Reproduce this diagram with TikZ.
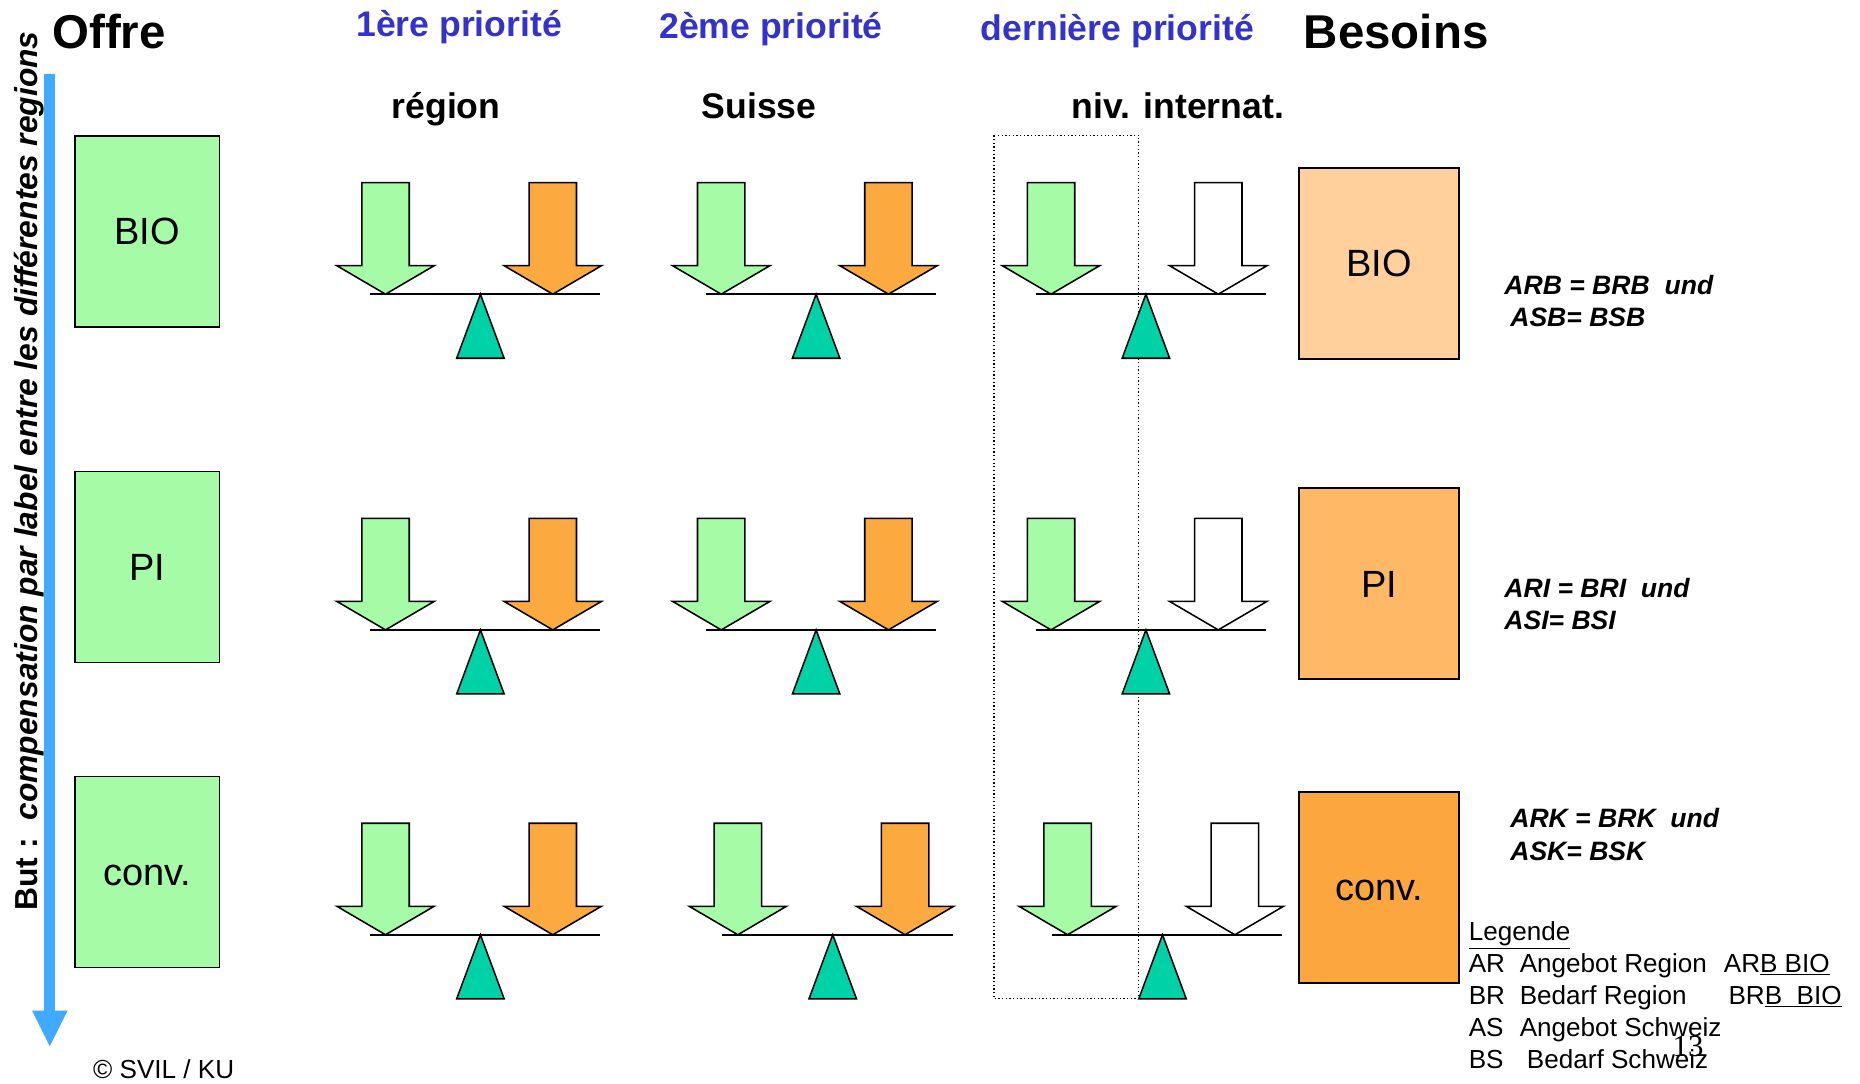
\documentclass[tikz,border=0pt]{standalone}
\usepackage{fontspec}
\setmainfont{Liberation Sans}
\newfontfamily\numserif{Liberation Serif}
\definecolor{greenA}{RGB}{166,251,166}
\definecolor{orangeA}{RGB}{252,169,64}
\definecolor{tealA}{RGB}{0,210,168}
\definecolor{blueA}{RGB}{63,170,255}
\definecolor{titleblue}{RGB}{51,51,204}
\definecolor{peachA}{RGB}{255,208,155}
\definecolor{peachB}{RGB}{255,185,102}
\definecolor{peachC}{RGB}{252,166,63}
\newcommand\fs[1]{\fontsize{#1}{#1}\selectfont}
\newcommand\mybalance[3]{% #1 centre x, #2 beam y, #3 right arrow fill
  \draw[outl] (#1-93,#2) -- (#1+101,#2);
  \draw[outl, fill=greenA] (#1-80,#2) -- (#1-121,#2-24) -- (#1-100,#2-24) -- (#1-100,#2-94)
     -- (#1-60,#2-94) -- (#1-60,#2-24) -- (#1-39,#2-24) -- cycle;
  \draw[outl, fill=#3] (#1+61,#2) -- (#1+20,#2-24) -- (#1+41,#2-24) -- (#1+41,#2-94)
     -- (#1+81,#2-94) -- (#1+81,#2-24) -- (#1+102,#2-24) -- cycle;
  \draw[outl, fill=tealA] (#1,#2) -- (#1-20,#2+54) -- (#1+20,#2+54) -- cycle;
}
\begin{document}
\begin{tikzpicture}[x=1pt,y=-1pt,
  outl/.style={draw=black, line width=1.3pt, line join=miter},
  box/.style={draw=black, line width=1.3pt, minimum width=122pt, minimum height=161pt, inner sep=0pt, font=\fs{32}, text height=23pt, text depth=0pt},
  rbox/.style={draw=black, line width=1.3pt, minimum width=135pt, minimum height=161pt, inner sep=0pt, font=\fs{32}, text height=23pt, text depth=0pt},
  big/.style={font=\fs{40}\bfseries, inner sep=0pt, text height=28.6pt, text depth=0pt},
  prio/.style={font=\fs{30}\bfseries, text=titleblue, inner sep=0pt, text height=21.5pt, text depth=0pt},
  lvl/.style={font=\fs{30}\bfseries, inner sep=0pt, text height=21.5pt, text depth=0pt},
  eq/.style={font=\fs{22.4}\bfseries\itshape, anchor=west, inner sep=0pt, text height=16pt, text depth=0pt},
  leg/.style={font=\fs{22}, anchor=west, inner sep=0pt, text height=16pt, text depth=0pt}]
\useasboundingbox (0,0) rectangle (1568,913);

% blue arrow
\fill[blueA] (37.5,62) rectangle (46.5,853);
\fill[blueA] (27,852) -- (57,852) -- (42,882) -- cycle;
\node[rotate=90, inner sep=0pt, font=\fs{26.8}, text height=19pt, text depth=0pt] (goal) at (22,397)
  {\bfseries But :\ \ \itshape compensation par label entre les différentes regions};

% headings
\node[big] (offre) at (92,27) {Offre};
\node[big] (besoins) at (1177,27) {Besoins};
\node[prio] (p1) at (387,20) {1ère priorité};
\node[prio] (p2) at (650,22) {2ème priorité};
\node[prio] (p3) at (942,23) {dernière priorité};
\node[lvl] (l1) at (376,89) {région};
\node[lvl] (l2) at (640,89) {Suisse};
\node[lvl] (l3) at (993,89) {niv. internat.};

% offer boxes
\node[box, fill=greenA] (oBio) at (124,195) {BIO};
\node[box, fill=greenA] (oPi) at (124,478) {PI};
\node[box, fill=greenA] (oConv) at (124,735) {conv.};

% demand boxes
\node[rbox, fill=peachA] (bBio) at (1162.5,222) {BIO};
\node[rbox, fill=peachB] (bPi) at (1162.5,492) {PI};
\node[rbox, fill=peachC] (bConv) at (1162.5,748) {conv.};

% dotted frame
\draw[line width=1.1pt, dotted] (838,114) rectangle (960,842);

% balances
\mybalance{405}{248}{orangeA}
\mybalance{688}{248}{orangeA}
\mybalance{966}{248}{white}
\mybalance{405}{531}{orangeA}
\mybalance{688}{531}{orangeA}
\mybalance{966}{531}{white}
\mybalance{405}{788}{orangeA}
\mybalance{702}{788}{orangeA}
\mybalance{980}{788}{white}

% equations
\node[eq] (e1a) at (1268,240) {ARB = BRB\ \ und};
\node[eq] (e1b) at (1273,267) {ASB= BSB};
\node[eq] (e2a) at (1268,496) {ARI = BRI\ \ und};
\node[eq] (e2b) at (1268,523) {ASI= BSI};
\node[eq] (e3a) at (1273,690) {ARK = BRK\ \ und};
\node[eq] (e3b) at (1273,717) {ASK= BSK};

% legend
\node[leg] (lg0) at (1238,785) {\underline{Legende}};
\node[leg] (lg1) at (1238,812) {\makebox[43pt][l]{AR}Angebot Region};
\node[leg] (lg1b) at (1453,812) {AR\underline{B BIO}};
\node[leg] (lg2) at (1238,839) {\makebox[43pt][l]{BR}Bedarf Region};
\node[leg] (lg2b) at (1457,839) {BR\underline{B\ \ BIO}};
\node[leg] (lg3) at (1238,866) {\makebox[43pt][l]{AS}Angebot Schweiz};
\node[leg] (lg4) at (1238,893) {\makebox[49pt][l]{BS}Bedarf Schweiz};
\node[inner sep=0pt, font=\numserif\fs{26}] (pg) at (1423,882) {13};

\node[inner sep=0pt, font=\fs{22}, text height=16pt, text depth=0pt] (copy) at (138,901) {© SVIL / KU};
\end{tikzpicture}
\end{document}
